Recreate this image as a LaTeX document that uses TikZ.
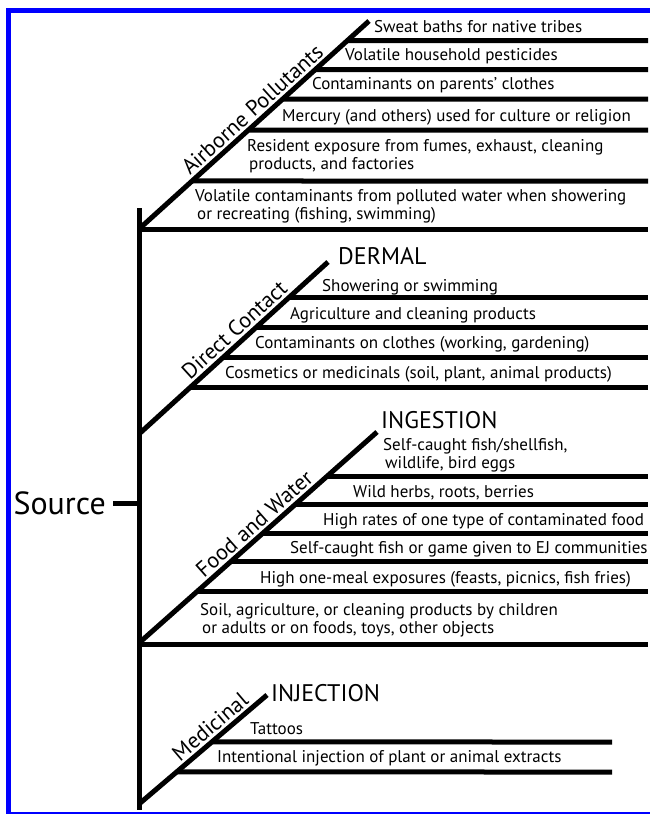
\documentclass[tikz,border=0pt]{standalone}
\usepackage{fontspec}
\setmainfont{PT Sans}
\begin{document}
\begin{tikzpicture}[x=1pt,y=-1pt,
  bar/.style={line width=5pt,line cap=butt},
  item/.style={anchor=west,inner sep=0pt,font=\fontsize{17}{18}\selectfont,align=left},
  head/.style={anchor=west,inner sep=0pt,font=\fontsize{24}{26}\selectfont},
  diaglabel/.style={sloped,above,inner sep=2.5pt,font=\fontsize{22}{24}\selectfont},
  frame/.style={draw=blue,line width=5pt}]
\useasboundingbox (0,0) rectangle (650,815);
% blue frame
\coordinate (F1) at (6,10.8);
\coordinate (F2) at (650,10.8);
\coordinate (F3) at (8.5,8.3);
\coordinate (F4) at (8.5,813);
\coordinate (F5) at (6,813);
\coordinate (F6) at (650,813);
\draw[frame] (F1) -- (F2);
\draw[frame] (F3) -- (F4);
\draw[draw=blue,line width=2pt] (F5) -- (F6);

% spine and source
\coordinate (S1) at (139,208);
\coordinate (S2) at (139,810);
\coordinate (T1) at (113,503);
\coordinate (T2) at (139,503);
\draw[bar] (S1) -- (S2);
\draw[bar] (T1) -- (T2);
\node[anchor=east,inner sep=0pt,font=\fontsize{32}{34}\selectfont] (src) at (106,503) {Source};

% ---------- Airborne ----------
\coordinate (A0) at (139,229);
\coordinate (A9) at (369,21);
\draw[bar] (A0) -- (A9) node[diaglabel,pos=0.53] (alab) {Airborne Pollutants};
\foreach \n/\y in {1/40.5,2/69.5,3/99,4/130,5/181}{
  \coordinate (A\n s) at (intersection of A0--A9 and 0,\y--650,\y);
  \coordinate (A\n e) at (648,\y);
  \draw[bar] (A\n s) -- (A\n e);
}
\coordinate (A6s) at (139,229.5);
\coordinate (A6e) at (648,229.5);
\draw[bar] (A6s) -- (A6e);
\node[item] (a1) at (374,27) {Sweat baths for native tribes};
\node[item] (a2) at (345,56) {Volatile household pesticides};
\node[item] (a3) at (312,85.5) {Contaminants on parents’ clothes};
\node[item] (a4) at (282,117) {Mercury (and others) used for culture or religion};
\node[item] (a5) at (247,156) {Resident exposure from fumes, exhaust, cleaning\\\hspace{2pt}products, and factories};
\node[item] (a6) at (195,206) {Volatile contaminants from polluted water when showering\\\hspace{2pt}or recreating (fishing, swimming)};

% ---------- Dermal ----------
\coordinate (D0) at (139,434);
\coordinate (D9) at (328,262);
\draw[bar] (D0) -- (D9) node[diaglabel,pos=0.55] (dlab) {Direct Contact};
\foreach \n/\y in {1/297,2/327,3/357,4/387}{
  \coordinate (D\n s) at (intersection of D0--D9 and 0,\y--650,\y);
  \coordinate (D\n e) at (648,\y);
  \draw[bar] (D\n s) -- (D\n e);
}
\node[head] (dh) at (338,256) {DERMAL};
\node[item] (d1) at (322,287) {Showering or swimming};
\node[item] (d2) at (290,315) {Agriculture and cleaning products};
\node[item] (d3) at (255,344) {Contaminants on clothes (working, gardening)};
\node[item] (d4) at (225,374) {Cosmetics or medicinals (soil, plant, animal products)};

% ---------- Ingestion ----------
\coordinate (I0) at (139,643);
\coordinate (I9) at (377,432);
\draw[bar] (I0) -- (I9) node[diaglabel,pos=0.52] (ilab) {Food and Water};
\foreach \n/\y in {1/476,2/504,3/533,4/561,5/591}{
  \coordinate (I\n s) at (intersection of I0--I9 and 0,\y--650,\y);
  \coordinate (I\n e) at (648,\y);
  \draw[bar] (I\n s) -- (I\n e);
}
\coordinate (I6s) at (139,644);
\coordinate (I6e) at (648,644);
\draw[bar] (I6s) -- (I6e);
\node[head] (ih) at (381,420) {INGESTION};
\node[item] (i1) at (383,455) {Self-caught fish/shellfish,\\\hspace{2pt}wildlife, bird eggs};
\node[item] (i2) at (353,493) {Wild herbs, roots, berries};
\node[item] (i3) at (323,521) {High rates of one type of contaminated food};
\node[item] (i4) at (290,549.5) {Self-caught fish or game given to EJ communities};
\node[item] (i5) at (260,579) {High one-meal exposures (feasts, picnics, fish fries)};
\node[item] (i6) at (200,620) {Soil, agriculture, or cleaning products by children\\\hspace{2pt}or adults or on foods, toys, other objects};

% ---------- Injection ----------
\coordinate (J0) at (139,804);
\coordinate (J9) at (267,695);
\draw[bar] (J0) -- (J9) node[diaglabel,pos=0.62] (jlab) {Medicinal};
\foreach \n/\y in {1/742,2/772}{
  \coordinate (J\n s) at (intersection of J0--J9 and 0,\y--650,\y);
  \coordinate (J\n e) at (612,\y);
  \draw[bar] (J\n s) -- (J\n e);
}
\node[head] (jh) at (271,693) {INJECTION};
\node[item] (j1) at (250,729) {Tattoos};
\node[item] (j2) at (217,758) {Intentional injection of plant or animal extracts};
\end{tikzpicture}
\end{document}
